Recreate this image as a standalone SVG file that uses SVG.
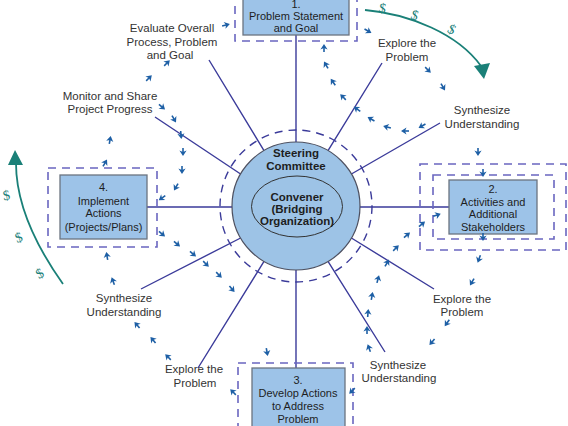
<svg xmlns="http://www.w3.org/2000/svg" xmlns:xlink="http://www.w3.org/1999/xlink" width="568" height="426" viewBox="0 0 568 426">
<style>
.lbl{font-family:"Liberation Sans",Arial,sans-serif;font-size:11.5px;fill:#333;text-anchor:middle}
.bx{font-family:"Liberation Sans",Arial,sans-serif;font-size:11px;fill:#1e1e1e;text-anchor:middle}
.ct{font-family:"Liberation Sans",Arial,sans-serif;font-size:11.5px;font-weight:bold;fill:#1e1e1e;text-anchor:middle}
.box{fill:#9dc3e8;stroke:#6b7480;stroke-width:1.3}
.dr{fill:none;stroke:#6a66c0;stroke-width:1.6;stroke-dasharray:8 6}
.sp{stroke:#3b3b9a;stroke-width:1.4;fill:none}
.dol{font-family:"Liberation Serif",serif;font-size:14px;fill:#1a8078}
.tl{fill:none;stroke:#1a8078;stroke-width:1.8}
</style>
<defs>
<g id="a"><path d="M-4,0 L1,0" stroke="#1d5fa5" stroke-width="1.6"/><path d="M4,0 L-1.5,-3.6 L0,0 L-1.5,3.6Z" fill="#1d5fa5"/></g>
</defs>
<rect width="568" height="426" fill="#fff"/>
<g id="connectors">
<path class="sp" d="M296,35 V142 M296,270 V368 M360,207 H449 M232,207 H147 M328,150.6 L382,63 M351.4,174 L440,123 M351.4,238 L434,289 M328,261.4 L385,352 M264,261.4 L198,368 M240.6,238 L141,289 M240.6,174 L155,117 M264,150.6 L209,60"/>
<circle cx="296" cy="206" r="76" fill="none" stroke="#3b3b9a" stroke-width="1.4" stroke-dasharray="8 6"/>
</g>
<g id="center">
<circle cx="296" cy="206" r="64" fill="#9dc3e6" stroke="#4d5060" stroke-width="1.2"/>
<ellipse cx="297" cy="206.5" rx="45.5" ry="30.5" fill="none" stroke="#333" stroke-width="1"/>
<text class="ct" x="296" y="157">Steering</text>
<text class="ct" x="296" y="170">Committee</text>
<text class="ct" x="297" y="201">Convener</text>
<text class="ct" x="297" y="213">(Bridging</text>
<text class="ct" x="297" y="225">Organization)</text>
</g>
<g id="box1">
<rect class="dr" x="235" y="-10" width="122" height="51"/>
<rect class="box" x="243" y="-5" width="106" height="40"/>
<text class="bx" x="296" y="8">1.</text>
<text class="bx" x="296" y="20">Problem Statement</text>
<text class="bx" x="296" y="32">and Goal</text>
</g>
<g id="box2">
<rect class="dr" x="420" y="164" width="146" height="86"/>
<rect class="dr" x="433" y="175" width="121" height="64"/>
<rect class="box" x="449" y="180" width="88" height="54"/>
<text class="bx" x="493" y="193">2.</text>
<text class="bx" x="493" y="206">Activities and</text>
<text class="bx" x="493" y="218">Additional</text>
<text class="bx" x="493" y="231">Stakeholders</text>
</g>
<g id="box3">
<rect class="dr" x="238" y="363" width="115" height="80"/>
<rect class="box" x="252" y="368" width="93" height="70"/>
<text class="bx" x="298" y="384">3.</text>
<text class="bx" x="298" y="397">Develop Actions</text>
<text class="bx" x="298" y="410">to Address</text>
<text class="bx" x="298" y="423">Problem</text>
</g>
<g id="box4">
<rect class="dr" x="48" y="168" width="109" height="79"/>
<rect class="box" x="60" y="175" width="87" height="64"/>
<text class="bx" x="103.5" y="191">4.</text>
<text class="bx" x="103.5" y="205">Implement</text>
<text class="bx" x="103.5" y="217">Actions</text>
<text class="bx" x="103.5" y="231">(Projects/Plans)</text>
</g>
<g id="labels">
<text class="lbl" x="172" y="32">Evaluate Overall</text>
<text class="lbl" x="172" y="46">Process, Problem</text>
<text class="lbl" x="170" y="59">and Goal</text>
<text class="lbl" x="110" y="100">Monitor and Share</text>
<text class="lbl" x="110" y="113">Project Progress</text>
<text class="lbl" x="407" y="47">Explore the</text>
<text class="lbl" x="407" y="61">Problem</text>
<text class="lbl" x="482" y="114">Synthesize</text>
<text class="lbl" x="482" y="128">Understanding</text>
<text class="lbl" x="462" y="303">Explore the</text>
<text class="lbl" x="462" y="316">Problem</text>
<text class="lbl" x="398" y="369">Synthesize</text>
<text class="lbl" x="399" y="382">Understanding</text>
<text class="lbl" x="124" y="302">Synthesize</text>
<text class="lbl" x="124" y="316">Understanding</text>
<text class="lbl" x="194" y="373">Explore the</text>
<text class="lbl" x="195" y="387">Problem</text>
</g>
<g id="funding">
<path class="tl" d="M365,10 C410,14 458,34 481,66"/>
<polygon points="474,66 490,63 484,79" fill="#1a8078"/>
<text class="dol" x="379" y="13" transform="rotate(10 383 9)">$</text>
<text class="dol" x="411" y="20" transform="rotate(18 415 16)">$</text>
<text class="dol" x="448" y="34" transform="rotate(28 452 30)">$</text>
<path class="tl" d="M63,284 C36,246 16,204 16,163"/>
<polygon points="8,165 23,165 15,150" fill="#1a8078"/>
<text class="dol" x="3" y="200" transform="rotate(-10 6 196)">$</text>
<text class="dol" x="15" y="242" transform="rotate(-20 19 237)">$</text>
<text class="dol" x="36" y="278" transform="rotate(-30 40 273)">$</text>
</g>
<g id="flow">
<use xlink:href="#a" transform="translate(110,140) rotate(-80)"/>
<use xlink:href="#a" transform="translate(105,163) rotate(-60)"/>
<use xlink:href="#a" transform="translate(149,78) rotate(-45)"/>
<use xlink:href="#a" transform="translate(167,63) rotate(-45)"/>
<use xlink:href="#a" transform="translate(226,25) rotate(-15)"/>
<use xlink:href="#a" transform="translate(162,107) rotate(40)"/>
<use xlink:href="#a" transform="translate(174,119) rotate(60)"/>
<use xlink:href="#a" transform="translate(181,135) rotate(85)"/>
<use xlink:href="#a" transform="translate(183,152) rotate(90)"/>
<use xlink:href="#a" transform="translate(182,170) rotate(90)"/>
<use xlink:href="#a" transform="translate(176,187) rotate(120)"/>
<use xlink:href="#a" transform="translate(162,198) rotate(145)"/>
<use xlink:href="#a" transform="translate(162,234) rotate(40)"/>
<use xlink:href="#a" transform="translate(177,244) rotate(40)"/>
<use xlink:href="#a" transform="translate(193,254) rotate(40)"/>
<use xlink:href="#a" transform="translate(206,264) rotate(45)"/>
<use xlink:href="#a" transform="translate(219,275) rotate(45)"/>
<use xlink:href="#a" transform="translate(232,289) rotate(50)"/>
<use xlink:href="#a" transform="translate(267,352) rotate(80)"/>
<use xlink:href="#a" transform="translate(233,392) rotate(-135)"/>
<use xlink:href="#a" transform="translate(168,357) rotate(-135)"/>
<use xlink:href="#a" transform="translate(153,340) rotate(-130)"/>
<use xlink:href="#a" transform="translate(137,325) rotate(-130)"/>
<use xlink:href="#a" transform="translate(113,281) rotate(-110)"/>
<use xlink:href="#a" transform="translate(107,256) rotate(-100)"/>
<use xlink:href="#a" transform="translate(324,48) rotate(-90)"/>
<use xlink:href="#a" transform="translate(326,65) rotate(-120)"/>
<use xlink:href="#a" transform="translate(333,82) rotate(-125)"/>
<use xlink:href="#a" transform="translate(343,97) rotate(-135)"/>
<use xlink:href="#a" transform="translate(357,109) rotate(-145)"/>
<use xlink:href="#a" transform="translate(371,119) rotate(-150)"/>
<use xlink:href="#a" transform="translate(387,127) rotate(-165)"/>
<use xlink:href="#a" transform="translate(405,131) rotate(180)"/>
<use xlink:href="#a" transform="translate(422,126) rotate(150)"/>
<use xlink:href="#a" transform="translate(368,31) rotate(30)"/>
<use xlink:href="#a" transform="translate(428,70) rotate(45)"/>
<use xlink:href="#a" transform="translate(443,87) rotate(60)"/>
<use xlink:href="#a" transform="translate(478,152) rotate(90)"/>
<use xlink:href="#a" transform="translate(483,173) rotate(90)"/>
<use xlink:href="#a" transform="translate(483,237) rotate(90)"/>
<use xlink:href="#a" transform="translate(479,259) rotate(110)"/>
<use xlink:href="#a" transform="translate(472,282) rotate(120)"/>
<use xlink:href="#a" transform="translate(447,323) rotate(125)"/>
<use xlink:href="#a" transform="translate(432,342) rotate(130)"/>
<use xlink:href="#a" transform="translate(437,215) rotate(-20)"/>
<use xlink:href="#a" transform="translate(422,224) rotate(-40)"/>
<use xlink:href="#a" transform="translate(407,235) rotate(-40)"/>
<use xlink:href="#a" transform="translate(396,248) rotate(-45)"/>
<use xlink:href="#a" transform="translate(387,263) rotate(-60)"/>
<use xlink:href="#a" transform="translate(378,279) rotate(-75)"/>
<use xlink:href="#a" transform="translate(372,296) rotate(-80)"/>
<use xlink:href="#a" transform="translate(368,313) rotate(-85)"/>
<use xlink:href="#a" transform="translate(367,330) rotate(-90)"/>
<use xlink:href="#a" transform="translate(369,348) rotate(-110)"/>
<use xlink:href="#a" transform="translate(352,391) rotate(135)"/>
</g>
</svg>
